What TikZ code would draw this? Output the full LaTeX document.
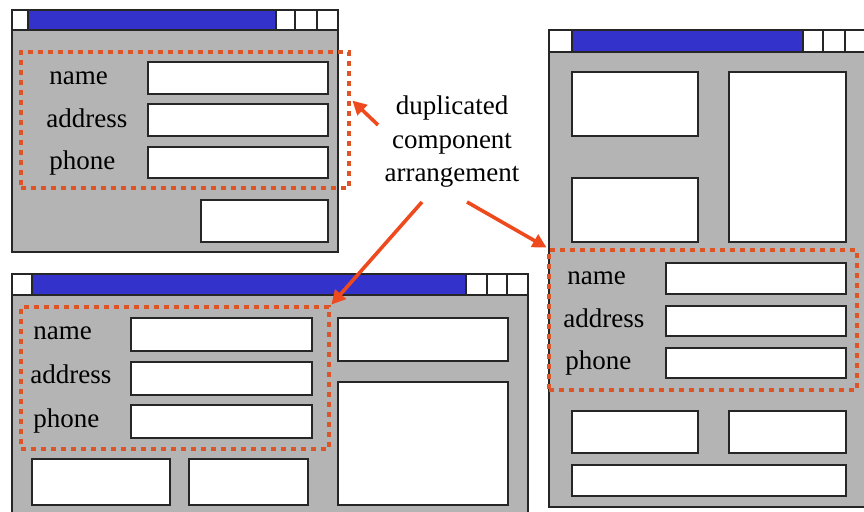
\documentclass[tikz,border=0pt]{standalone}
\usepackage{fontspec}
\setmainfont{Liberation Serif}
\usepackage{tikz}
\usetikzlibrary{arrows.meta}
\usetikzlibrary{calc}
\usetikzlibrary{fit}
\definecolor{win-gray}{HTML}{B4B4B4}
\definecolor{win-blue}{HTML}{3333CC}
\definecolor{dup-dots}{HTML}{DD5526}
\definecolor{dup-arrow}{HTML}{EE4A1E}

\begin{document}
\begin{tikzpicture}[x=0.5pt, y=-0.5pt,
    win/.style={draw=black!85, line width=1pt, fill=win-gray},
    field/.style={draw=black!85, line width=1pt, fill=white},
    bar/.style={draw=black!85, line width=1pt, fill=win-blue},
    sep/.style={draw=black!85, line width=1pt},
    lbl/.style={anchor=base west, inner sep=0pt, font=\fontsize{13.5}{16}\selectfont},
    dupgroup/.style={draw=dup-dots, line width=2.4pt, dash pattern=on 2.4pt off 2.6pt, inner sep=0pt},
    pointer/.style={draw=dup-arrow, line width=1.8pt, -{Triangle[length=7pt,width=7pt]}}]
    % frame
    \useasboundingbox (0,0) rectangle (864,512);
    \clip (0,0) rectangle (864,512);

    % small window
    \draw[win] (12,10) rectangle (338,252);
    \draw[field] (12,10) rectangle (338,30);
    \draw[bar] (28,10) rectangle (276,30);
    \draw[sep] (295,10) -- (295,30) (317,10) -- (317,30);
    \draw[field] (148,62) rectangle (328,94);
    \draw[field] (148,104) rectangle (328,136);
    \draw[field] (148,147) rectangle (328,178);
    \draw[field] (201,200) rectangle (328,242);
    \node[lbl] (nm1) at (49,85) {name};
    \node[lbl] (ad1) at (46,128) {address};
    \node[lbl] (ph1) at (49,170) {phone};
    \node[dupgroup, fit={(21,52) (349,188)}] (g1) {};

    % wide window
    \draw[win] (12,274) rectangle (528,530);
    \draw[field] (12,274) rectangle (528,295);
    \draw[bar] (32,274) rectangle (466,295);
    \draw[sep] (487,274) -- (487,295) (507,274) -- (507,295);
    \draw[field] (131,318) rectangle (312,351);
    \draw[field] (131,362) rectangle (312,395);
    \draw[field] (131,405) rectangle (312,438);
    \draw[field] (338,318) rectangle (508,361);
    \draw[field] (338,382) rectangle (508,505);
    \draw[field] (32,459) rectangle (170,505);
    \draw[field] (189,459) rectangle (308,505);
    \node[lbl] (nm2) at (33,340) {name};
    \node[lbl] (ad2) at (30,384) {address};
    \node[lbl] (ph2) at (33,428) {phone};
    \node[dupgroup, fit={(21,307) (329,449)}] (g2) {};

    % tall window
    \draw[win] (549,30) rectangle (870,507);
    \draw[field] (549,30) rectangle (870,52);
    \draw[bar] (572,30) rectangle (803,52);
    \draw[sep] (823,30) -- (823,52) (845,30) -- (845,52);
    \draw[field] (572,72) rectangle (698,136);
    \draw[field] (572,178) rectangle (698,242);
    \draw[field] (729,72) rectangle (846,242);
    \draw[field] (666,263) rectangle (846,294);
    \draw[field] (666,306) rectangle (846,336);
    \draw[field] (666,348) rectangle (846,378);
    \draw[field] (572,411) rectangle (698,453);
    \draw[field] (729,411) rectangle (846,453);
    \draw[field] (572,465) rectangle (846,496);
    \node[lbl] (nm3) at (567,285) {name};
    \node[lbl] (ad3) at (563,328) {address};
    \node[lbl] (ph3) at (565,370) {phone};
    \node[dupgroup, fit={(549,250) (857,390)}] (g3) {};

    % caption and pointers
    \node[align=center, inner sep=0pt, font=\fontsize{13.5}{16.75}\selectfont] (note) at (452,142)
        {duplicated\\component\\arrangement};
    \coordinate (p1) at (378,125);
    \coordinate (p2) at (422,202);
    \coordinate (p3) at (467,202);
    \draw[pointer] (p1) -- ($(g1.north east)+(1,51)$);
    \draw[pointer] (p2) -- (g2.north east);
    \draw[pointer] (p3) -- (g3.north west);

\end{tikzpicture}
\end{document}
